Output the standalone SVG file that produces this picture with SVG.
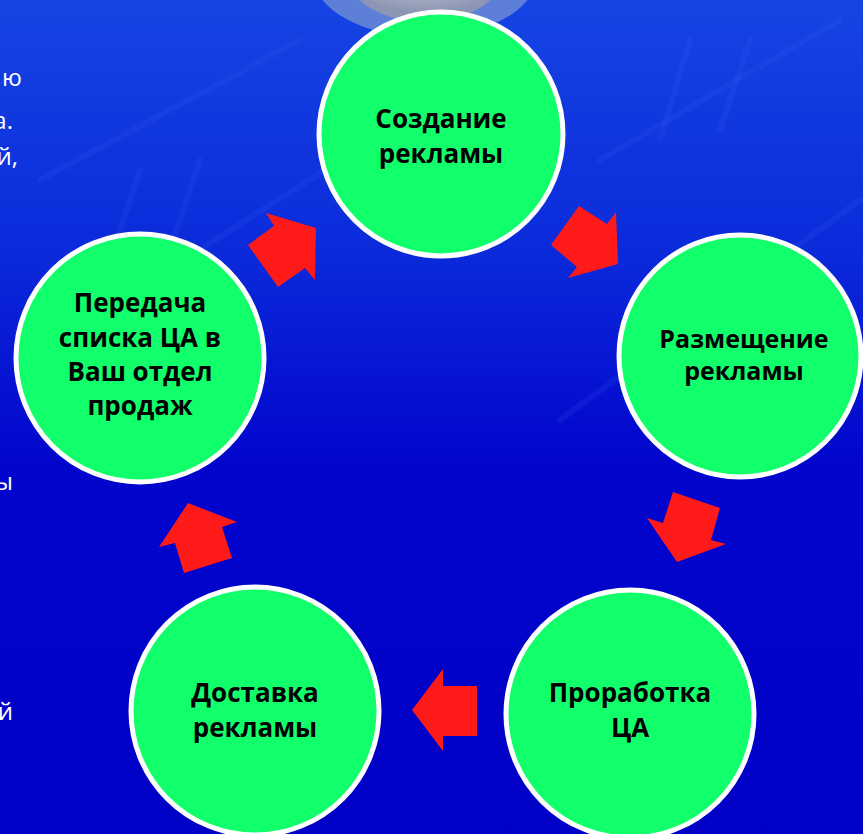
<svg xmlns="http://www.w3.org/2000/svg" width="863" height="834" viewBox="0 0 863 834">
<defs>
<linearGradient id="bg" x1="0" y1="0" x2="0" y2="1">
<stop offset="0" stop-color="#1644e4"/>
<stop offset="0.3" stop-color="#0b2ada"/>
<stop offset="0.55" stop-color="#0206cc"/>
<stop offset="1" stop-color="#0000c6"/>
</linearGradient>
<radialGradient id="globe" cx="0.5" cy="0.2" r="0.7">
<stop offset="0" stop-color="#e4e6ec"/>
<stop offset="0.7" stop-color="#b4bac8"/>
<stop offset="1" stop-color="#8c96b4"/>
</radialGradient>
<style>
.node{fill:#12ff6c;stroke:#ffffff;stroke-width:5}
.lbl{font-family:"Open Sans","Liberation Sans",sans-serif;font-weight:bold;font-size:26px;fill:#000000;text-anchor:middle}
.side{font-family:"Open Sans","Liberation Sans",sans-serif;font-size:24px;fill:#ffffff;text-anchor:end}
.arrow{fill:#ff1a1a}
.streak{stroke:#3a66f0;stroke-opacity:0.15;stroke-width:6;fill:none;stroke-linecap:round}
</style>
</defs>
<rect width="863" height="834" fill="url(#bg)"/>
<g id="background-decor">
<path class="streak" d="M40 180 L300 40"/>
<path class="streak" d="M120 300 L420 110"/>
<path class="streak" d="M560 420 L860 200"/>
<path class="streak" d="M600 160 L840 20"/>
<path class="streak" d="M110 260 L140 170" stroke-width="10"/>
<path class="streak" d="M170 250 L200 160" stroke-width="10"/>
<path class="streak" d="M660 140 L690 40" stroke-width="10"/>
<path class="streak" d="M720 130 L750 40" stroke-width="10"/>
<ellipse cx="425" cy="-25" rx="112" ry="62" fill="#5d7fd8"/>
<ellipse cx="425" cy="-30" rx="80" ry="52" fill="url(#globe)"/>
</g>
<g id="side-text">
<text class="side" x="22" y="86">ю</text>
<text class="side" x="13" y="129">а.</text>
<text class="side" x="18" y="165">й,</text>
<text class="side" x="13" y="490">ы</text>
<text class="side" x="13" y="720">й</text>
</g>
<g id="connectors">
<polygon class="arrow" points="316,228 315,280 305,268 278,287 248,245 274,226 266,213"/>
<polygon class="arrow" points="618,264 568,278 577,267 551,245 579,206 607,224 616,212"/>
<polygon class="arrow" points="677,562 647,518 663,523 673,492 720,508 711,540 726,544"/>
<polygon class="arrow" points="412,710 443,669 443,686 477,686 477,736 443,736 443,751"/>
<polygon class="arrow" points="188,503 237,522 222,527 232,558 184,573 175,543 159,547"/>
</g>
<g id="node-create">
<circle class="node" cx="441" cy="134" r="122"/>
<text class="lbl" x="441" y="128">Создание</text>
<text class="lbl" x="441" y="163">рекламы</text>
</g>
<g id="node-place">
<circle class="node" cx="740" cy="356" r="121"/>
<text class="lbl" x="744" y="348" style="font-size:25px">Размещение</text>
<text class="lbl" x="744" y="380" style="font-size:25px">рекламы</text>
</g>
<g id="node-work">
<circle class="node" cx="630" cy="714" r="124"/>
<text class="lbl" x="630" y="702">Проработка</text>
<text class="lbl" x="630" y="737">ЦА</text>
</g>
<g id="node-deliver">
<circle class="node" cx="255" cy="711" r="124"/>
<text class="lbl" x="255" y="702">Доставка</text>
<text class="lbl" x="255" y="737">рекламы</text>
</g>
<g id="node-transfer">
<circle class="node" cx="140" cy="358" r="124"/>
<text class="lbl" x="140" y="312">Передача</text>
<text class="lbl" x="140" y="347">списка ЦА в</text>
<text class="lbl" x="140" y="381">Ваш отдел</text>
<text class="lbl" x="140" y="415">продаж</text>
</g>
</svg>
